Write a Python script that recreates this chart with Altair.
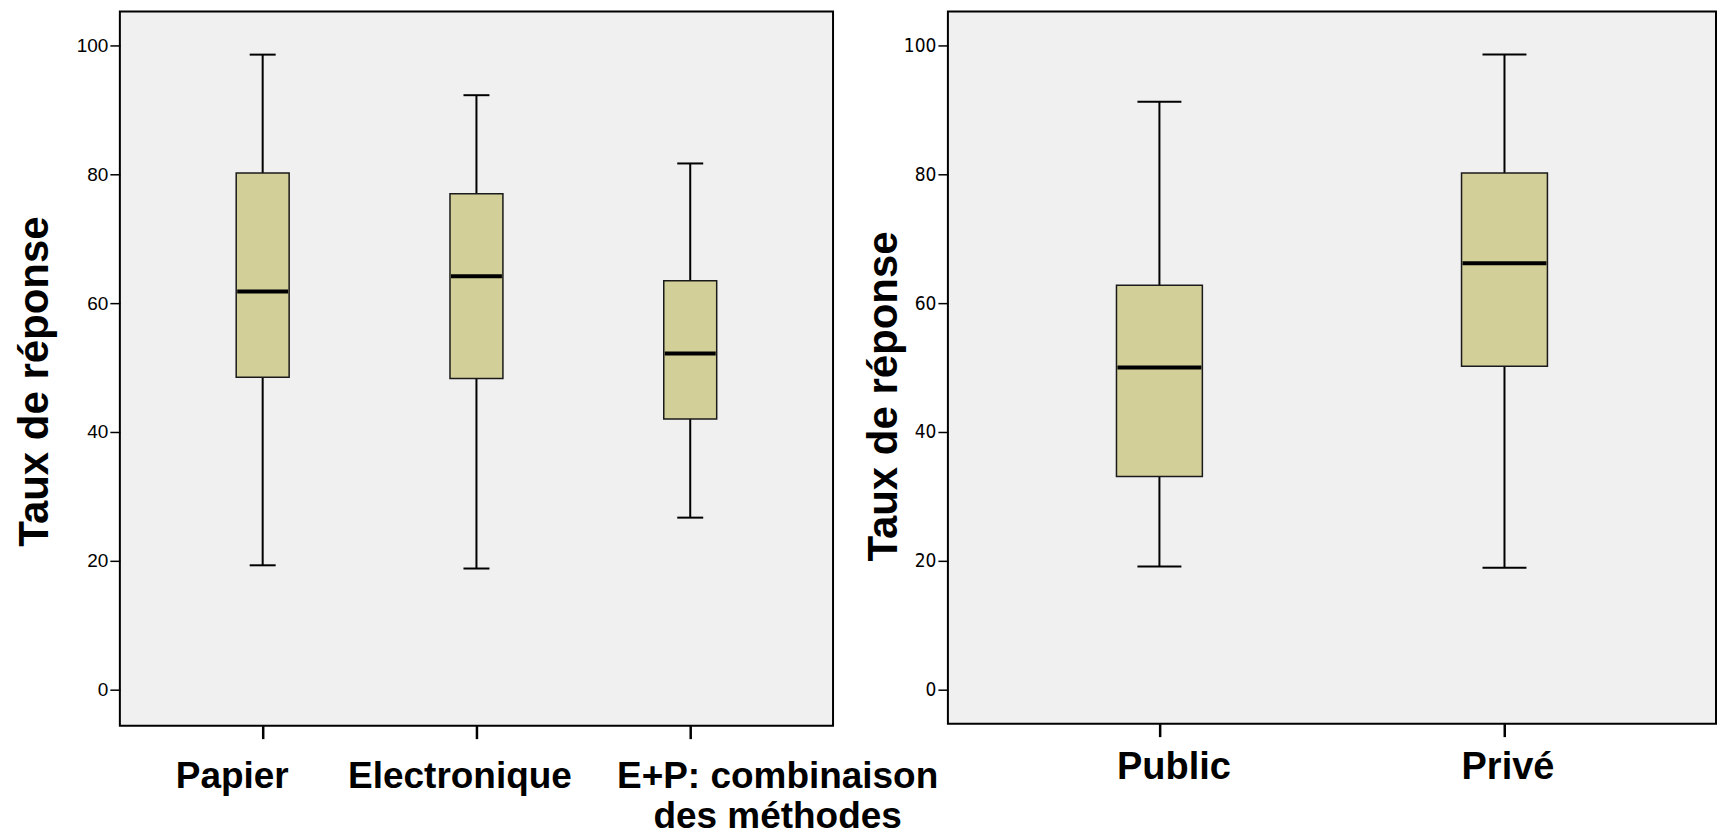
import altair as alt
import pandas as pd

# ---- data ----
methods = ["Papier", "Electronique", "E+P: combinaison des méthodes"]
m_low = [19.3, 18.8, 26.7]
m_q1 = [48.5, 48.3, 42.0]
m_med = [61.8, 64.2, 52.2]
m_q3 = [80.2, 77.0, 63.5]
m_high = [98.6, 92.3, 81.7]

sectors = ["Public", "Privé"]
s_low = [19.1, 18.9]
s_q1 = [33.1, 50.2]
s_med = [50.0, 66.2]
s_q3 = [62.8, 80.2]
s_high = [91.3, 98.6]

y_ticks = [0, 20, 40, 60, 80, 100]
y_title = "Taux de réponse"

BOX_FILL = "#d3cf99"
FONT = "Liberation Sans"
NARROW = "Liberation Sans Narrow, DejaVu Sans Condensed, Liberation Sans"


def panel(cats, lo, q1, med, q3, hi, width, height, pad, boxw, capw,
          domain, label_font, title_y, title_pad, label_pad, offsets,
          label_expr, label_size):
    df = pd.DataFrame({"cat": cats, "lo": lo, "q1": q1, "med": med,
                       "q3": q3, "hi": hi})
    cond = [{"test": f"datum.value == '{c}'", "value": o}
            for c, o in zip(cats, offsets)]
    x = alt.X(
        "cat:N", sort=cats,
        scale=alt.Scale(type="point", padding=pad),
        axis=alt.Axis(
            title=None, domain=False, grid=False, labelAngle=0,
            labelFont=FONT, labelFontWeight="bold", labelFontSize=label_size,
            labelColor="black", labelBaseline="alphabetic",
            labelPadding=label_pad, labelLineHeight=40, labelLimit=0,
            labelOffset={"condition": cond, "value": 0},
            labelExpr=label_expr,
            tickSize=13, tickWidth=2.5, tickColor="black",
            labelOverlap=False, labelBound=False, labelFlush=False,
        ),
    )
    yaxis = alt.Axis(
        title=y_title, values=y_ticks, domain=False, grid=False,
        labelFont=label_font, labelFontSize=19, labelColor="black",
        labelPadding=2, tickSize=10, tickWidth=1.5, tickColor="black",
        titleFont=FONT, titleFontSize=42, titleFontWeight="bold",
        titleColor="black", titlePadding=title_pad, titleY=title_y,
    )
    ys = alt.Scale(domain=domain, nice=False, zero=False)
    base = alt.Chart(df)
    whisk = base.mark_rule(color="black", strokeWidth=2).encode(
        x=x, y=alt.Y("lo:Q", scale=ys, axis=yaxis), y2="hi:Q")
    cap_lo = base.mark_tick(color="black", thickness=2, size=capw,
                            opacity=1, orient="horizontal").encode(
        x=x, y=alt.Y("lo:Q", scale=ys, axis=yaxis))
    cap_hi = base.mark_tick(color="black", thickness=2, size=capw,
                            opacity=1, orient="horizontal").encode(
        x=x, y=alt.Y("hi:Q", scale=ys, axis=yaxis))
    box = base.mark_bar(fill=BOX_FILL, stroke="#1a1a1a", strokeWidth=1.5,
                        opacity=1, size=boxw).encode(
        x=x, y=alt.Y("q1:Q", scale=ys, axis=yaxis), y2="q3:Q")
    median = base.mark_tick(color="black", thickness=4, size=boxw - 2,
                            opacity=1, orient="horizontal").encode(
        x=x, y=alt.Y("med:Q", scale=ys, axis=yaxis))
    return alt.layer(whisk, cap_lo, cap_hi, box, median).properties(
        width=width, height=height)


left = panel(methods, m_low, m_q1, m_med, m_q3, m_high,
             width=714, height=715, pad=0.668, boxw=53, capw=26,
             domain=[-5.6, 105.3], label_font=FONT, title_y=370,
             title_pad=20, label_pad=49, offsets=[-31, -17, 87],
             label_expr="datum.value == 'E+P: combinaison des méthodes' ? "
                        "['E+P: combinaison', 'des méthodes'] : datum.label",
             label_size=37)

right = panel(sectors, s_low, s_q1, s_med, s_q3, s_high,
              width=769, height=713, pad=0.613, boxw=86, capw=44,
              domain=[-5.3, 105.3], label_font=NARROW, title_y=385,
              title_pad=-2, label_pad=42, offsets=[14, 3],
              label_expr="datum.label", label_size=38)

chart = alt.hconcat(left, right, spacing=115, bounds="flush").resolve_scale(
    x="independent", y="independent"
).properties(
    padding={"left": 4, "top": 2, "right": 0, "bottom": 0},
    background="white",
).configure_view(
    fill="#f0f0f0", stroke="black", strokeWidth=2
)

chart.save("out.html", embed_options={"renderer": "svg", "actions": False})
